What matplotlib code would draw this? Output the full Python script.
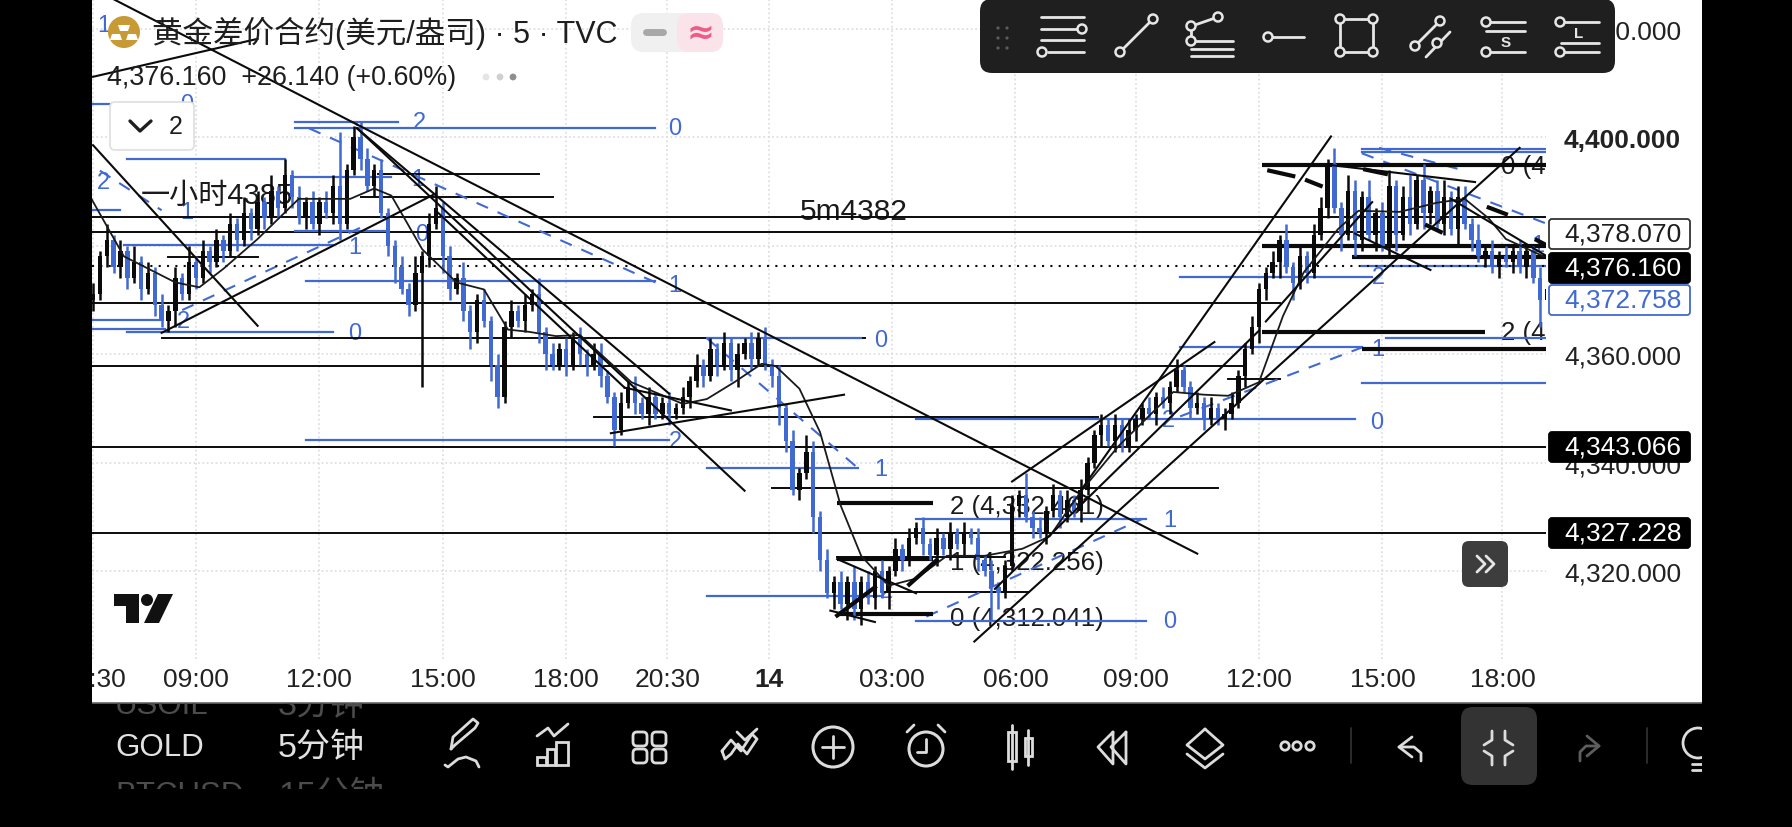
import matplotlib
matplotlib.use('Agg')
import numpy as np
import matplotlib.pyplot as plt
from matplotlib import patches

plt.rcParams['font.family'] = ['Liberation Sans', 'Noto Sans CJK SC', 'DejaVu Sans']

BLUE = '#4169d2'
BLACK = '#0a0a0a'

# closes, one candle every 2 five-minute bars
closes = [4371, 4378, 4381, 4376, 4379, 4374, 4377, 4372, 4375, 4369, 4366, 4368, 4374, 4371, 4377, 4374, 4379, 4377, 4381, 4379,
          4384, 4381, 4386, 4383, 4388, 4385, 4390, 4387, 4393, 4389, 4385, 4388, 4384, 4388, 4386, 4391, 4384, 4394, 4400, 4396,
          4391, 4394, 4386, 4380, 4376, 4372, 4369, 4375, 4378, 4384, 4387, 4378, 4372, 4374, 4368, 4364, 4370, 4366, 4358, 4352,
          4365, 4368, 4366, 4369, 4371, 4364, 4360, 4358, 4361, 4358, 4363, 4360, 4358, 4360, 4356, 4352, 4346, 4351, 4354, 4351,
          4349, 4352, 4349, 4351, 4349, 4350, 4352, 4355, 4358, 4356, 4361, 4358, 4362, 4357, 4360, 4362, 4359, 4363, 4358, 4356,
          4350, 4344, 4335, 4338, 4342, 4330, 4322, 4316, 4318, 4314, 4318, 4313, 4318, 4315, 4320, 4316, 4320, 4324, 4322, 4326,
          4328, 4325, 4323, 4326, 4324, 4327, 4325, 4327, 4326, 4322, 4320, 4317, 4316, 4321, 4332, 4334, 4330, 4328, 4327, 4331,
          4334, 4330, 4333, 4331, 4335, 4340, 4345, 4347, 4344, 4347, 4343, 4346, 4348, 4350, 4349, 4352, 4351, 4354, 4357, 4354,
          4350, 4351, 4348, 4350, 4348, 4349, 4351, 4356, 4361, 4365, 4372, 4375, 4377, 4381, 4376, 4373, 4378, 4375, 4382, 4387,
          4395, 4387, 4382, 4390, 4381, 4389, 4382, 4386, 4380, 4391, 4382, 4389, 4384, 4392, 4386, 4390, 4384, 4389, 4383, 4389,
          4384, 4381, 4378, 4379, 4376, 4378, 4377, 4379, 4376, 4379, 4374, 4370, 4372]
wick_up = [2, 1, 3, 1, 2, 1, 3, 1, 2, 1, 2, 1, 2, 1, 3, 1, 2, 1, 2, 1,
           2, 1, 3, 1, 2, 1, 3, 1, 3, 1, 2, 1, 2, 1, 2, 2, 10, 1, 2, 3,
           2, 1, 2, 1, 1, 2, 1, 3, 1, 2, 4, 1, 2, 1, 3, 1, 1, 2, 1, 2,
           1, 2, 1, 2, 1, 3, 1, 2, 1, 2, 1, 2, 1, 2, 2, 1, 1, 2, 1, 2,
           1, 2, 1, 1, 2, 1, 2, 1, 2, 1, 2, 1, 2, 1, 2, 1, 2, 1, 2, 1,
           2, 1, 2, 1, 3, 2, 1, 2, 1, 2, 1, 3, 1, 2, 1, 2, 1, 2, 1, 2,
           1, 2, 1, 2, 1, 2, 1, 2, 1, 2, 1, 2, 1, 1, 2, 1, 4, 1, 2, 1,
           2, 1, 2, 1, 2, 1, 1, 2, 1, 2, 1, 2, 1, 1, 2, 1, 2, 1, 2, 1,
           1, 2, 1, 2, 1, 1, 2, 1, 1, 2, 1, 1, 2, 1, 3, 1, 2, 1, 2, 2,
           1, 3, 1, 3, 2, 1, 3, 1, 2, 3, 1, 2, 4, 1, 3, 1, 2, 3, 1, 2,
           2, 1, 3, 1, 2, 1, 2, 1, 2, 1, 1, 2, 1]
wick_dn = [2, 1, 2, 1, 2, 2, 1, 2, 1, 2, 1, 2, 3, 1, 1, 2, 1, 2, 1, 2,
           1, 2, 1, 2, 1, 2, 1, 2, 1, 2, 1, 2, 1, 2, 1, 2, 3, 1, 1, 2,
           1, 2, 1, 2, 3, 1, 2, 1, 21, 2, 1, 3, 2, 1, 2, 3, 2, 1, 3, 2,
           1, 2, 1, 2, 1, 2, 3, 1, 1, 2, 1, 2, 2, 1, 2, 1, 3, 1, 1, 2,
           1, 2, 1, 1, 2, 1, 1, 2, 1, 2, 1, 2, 1, 2, 3, 1, 2, 1, 1, 2,
           3, 2, 1, 2, 1, 3, 2, 1, 3, 1, 3, 2, 3, 1, 2, 1, 3, 1, 2, 1,
           1, 2, 1, 2, 1, 2, 1, 2, 1, 2, 1, 6, 3, 1, 1, 2, 1, 2, 1, 2,
           1, 2, 1, 1, 2, 1, 1, 2, 1, 2, 1, 1, 2, 1, 1, 2, 1, 2, 1, 1,
           2, 1, 2, 1, 1, 2, 1, 1, 2, 1, 3, 2, 1, 3, 1, 3, 1, 2, 1, 1,
           2, 1, 3, 1, 3, 2, 1, 3, 1, 2, 3, 1, 2, 1, 3, 2, 1, 2, 1, 3,
           1, 2, 1, 2, 1, 2, 1, 2, 1, 2, 1, 5, 1]

ma_bar = [-31, -21, -6, 1, 8, 18, 30, 45, 52, 57, 66, 76, 84, 91, 97, 105, 112, 127, 142, 149, 157, 165, 169, 176, 182, 188,
          194, 202, 210, 219, 230, 241, 249, 258, 269, 285, 294, 301, 310, 317, 323, 333, 339, 351, 362, 370, 377, 382, 393]
ma_val = [4389.2, 4378, 4373.2, 4372.3, 4375.7, 4381.2, 4388.6, 4388.6, 4390.5, 4389.2, 4379.3, 4373.2, 4371.9, 4364.5, 4364.1,
          4363.3, 4363.5, 4354.8, 4350.8, 4351.7, 4354.8, 4358.2, 4357.8, 4353.6, 4345.6, 4332.1, 4322.8, 4317.3, 4318.6, 4322.8,
          4322.8, 4324.1, 4326.4, 4334.6, 4343, 4353, 4352.5, 4352.3, 4354.8, 4367, 4375, 4383, 4386.4, 4386.2, 4387.9, 4388.6,
          4385, 4381.2, 4378]

last_price = 4376.16
full_levels = [4385.2, 4342.8, 4327]
# bar from, bar to, price
black_levels = [(-10, 195, 4363), (53, 100, 4393.2), (48, 104, 4389), (-8, 18, 4377.8), (68, 118, 4377.6), (168, 298, 4335.3),
                (116, 263, 4348.3), (187, 236, 4322.6), (201, 243, 4316.1), (301, 316, 4355.4), (-31, 316, 4369.4),
                (-31, 306, 4357.8), (-31, 351, 4382.4)]
thick_levels = [(187, 215, 4332.46), (187, 215, 4322.256), (187, 215, 4312.041), (311, 394, 4394.9), (311, 394, 4379.9),
                (337, 394, 4377.8), (311, 376, 4364.1), (340, 394, 4361)]
blue_levels = [(29, 59, 4402.7), (29, 134, 4401.6), (-20, 26, 4396), (-30, -22, 4386.5), (29, 56, 4382.7), (32, 134, 4373.4),
               (-30, -9, 4364.7), (-20, 40, 4364), (149, 194, 4362.9), (32, 138, 4344.1), (149, 193, 4339), (149, 200, 4315.4),
               (210, 277, 4329.6), (210, 338, 4348.1), (210, 277, 4310.8), (287, 343, 4374.2), (287, 340, 4361.2),
               (340, 394, 4397.2), (340, 394, 4397.8), (347, 394, 4362.9), (340, 394, 4354.6), (340, 394, 4376.3),
               (356, 394, 4380), (29, 57, 4392.6), (-21, 40, 4380.1), (-30, -10, 4366.2), (-30, -20, 4406)]
blue_dashed = [(33, 4401.6, 134, 4373.2), (-28, 4393.8, -10, 4386.5), (-4, 4368.1, 48, 4383.3), (149, 4362.9, 193, 4339),
               (213, 4311.6, 276, 4329.6), (287, 4348.5, 340, 4361.2), (340, 4397, 394, 4384), (345, 4398, 370, 4393.8)]
trend_lines = [(-24, 4425.4, 47, 4402.3), (47, 4402.3, 292, 4323.2), (-30, 4398.5, 18, 4365.2), (-30, 4411.1, 18, 4418.1),
               (-10, 4363.9, 70, 4389.6), (47, 4401.6, 160, 4334.8), (47, 4401.6, 138, 4352.7), (70, 4386.4, 125, 4353.8),
               (121, 4345.4, 189, 4352.5), (125, 4353.8, 156, 4349.6), (185, 4312.7, 198, 4310.6), (187, 4322.2, 210, 4315.9),
               (227, 4307, 386, 4398), (238, 4336.5, 297, 4362.2), (233, 4316.7, 310, 4364.3), (258, 4334.8, 331, 4400.1),
               (312, 4366, 343, 4388), (330, 4394.9, 373, 4391.7), (366, 4388.6, 394, 4378), (338, 4382.2, 360, 4375.5)]
thick_ticks = [(187, 4311.8, 198, 4317), (208, 4317.5, 216, 4322), (313, 4393.8, 320, 4392.8), (324, 4392, 328, 4391),
               (341, 4394, 347, 4393.2), (377, 4387, 382, 4385.8), (391, 4381, 394, 4380), (359, 4383.7, 363, 4382.5)]

fib_bar = [65.3, 139.7, -27, 64.7, 46.3, 65.7, -3.7, 46.3, 139.7, 199.7, 139.7, 199.7, 284, 284, 344.3, 283.7, 344.7, 344.7,
           201.3, -27, -2.7, -2.7, 391.3]
fib_val = [4402.7, 4401.6, 4391.7, 4392.3, 4379.7, 4382.2, 4366, 4363.9, 4372.8, 4362.6, 4343.9, 4338.8, 4329.4, 4310.8,
           4347.5, 4347.9, 4374.2, 4361, 4316.3, 4420.6, 4406, 4386.2, 4380.1]
fib_txt = ['2', '0', '2', '1', '1', '0', '2', '0', '1', '0', '2', '1', '1', '0', '0', '2', '2', '1', '2', '1', '0', '1', '1']

time_bars = [-30, 0, 36, 72, 108, 137.5, 167, 203, 239, 274, 310, 346, 381]
time_labels = ['06:30', '09:00', '12:00', '15:00', '18:00', '20:30', '14', '03:00', '06:00', '09:00', '12:00', '15:00', '18:00']
price_ticks = [4420, 4400, 4380, 4360, 4340, 4320]
price_labels = ['4,420.000', '4,400.000', '', '4,360.000', '4,340.000', '4,320.000']

fig = plt.figure(figsize=(17.92, 8.28), dpi=100, facecolor='white')
ax = fig.add_axes([92 / 1792, 168 / 828, 1454 / 1792, 660 / 828])
ax.set_xlim(-30.3, 393.7)
ax.set_ylim(4303.78, 4425.44)
for s in ax.spines.values():
    s.set_visible(False)

ax.set_xticks(time_bars)
ax.set_xticklabels(time_labels, fontsize=19, color='#222222')
ax.get_xticklabels()[6].set_fontweight('bold')
ax.yaxis.tick_right()
ax.set_yticks(price_ticks)
ax.set_yticklabels(price_labels, fontsize=19, color='#222222', ha='left')
ax.get_yticklabels()[1].set_fontweight('bold')
ax.tick_params(axis='x', length=0, pad=6)
ax.tick_params(axis='y', length=0, pad=13)
ax.grid(True, color='#d8dbe2', ls=':', lw=1.2)
ax.set_axisbelow(True)

# drawing tools
for x0, x1, p in black_levels:
    ax.plot([x0, x1], [p, p], color=BLACK, lw=1.4, zorder=2)
for p in full_levels:
    ax.axhline(p, color=BLACK, lw=1.4, zorder=2)
for x0, x1, p in blue_levels:
    ax.plot([x0, x1], [p, p], color=BLUE, lw=1.6, zorder=2)
for x0, y0, x1, y1 in blue_dashed:
    ax.plot([x0, x1], [y0, y1], color=BLUE, lw=1.5, ls=(0, (6, 5)), zorder=2)
for x0, x1, p in thick_levels:
    ax.plot([x0, x1], [p, p], color=BLACK, lw=3, zorder=2.2, solid_capstyle='butt')
ax.axhline(last_price, color=BLACK, lw=1.5, ls=(0, (1, 3)), zorder=2)

# candles
n = len(closes)
bars = -30 + 2 * np.arange(n)
c = np.array(closes, dtype=float)
o = np.r_[c[0] - 1, c[:-1]]
hi = np.maximum(o, c) + np.array(wick_up[:n])
lo = np.minimum(o, c) - np.array(wick_dn[:n])
cols = [BLACK if c[i] >= o[i] else BLUE for i in range(n)]
ax.vlines(bars, lo, hi, colors=cols, lw=1.8, zorder=3)
ax.bar(bars, np.abs(c - o), bottom=np.minimum(o, c), width=1.3, color=cols, zorder=3)

ax.plot(ma_bar, ma_val, color='#1a1a1a', lw=1.3, zorder=3.5)
for x0, y0, x1, y1 in trend_lines:
    ax.plot([x0, x1], [y0, y1], color=BLACK, lw=1.5, zorder=3.6)
for x0, y0, x1, y1 in thick_ticks:
    ax.plot([x0, x1], [y0, y1], color=BLACK, lw=3, zorder=3.6)

for x, y, t in zip(fib_bar, fib_val, fib_txt):
    ax.text(x, y, t, color=BLUE, fontsize=17, ha='center', va='center', zorder=1.5, clip_on=True)
ax.text(220, 4332, '2 (4,332.461)', fontsize=18.6, color='#1a1a1a', va='center', zorder=1.5)
ax.text(220, 4321.6, '1 (4,322.256)', fontsize=18.6, color='#1a1a1a', va='center', zorder=1.5)
ax.text(220, 4311.4, '0 (4,312.041)', fontsize=18.6, color='#1a1a1a', va='center', zorder=1.5)
ax.text(380.5, 4394.6, '0 (4,399.000)', fontsize=18.6, color='#1a1a1a', va='center', zorder=1.5, clip_on=True)
ax.text(380.5, 4364.1, '2 (4,364.100)', fontsize=18.6, color='#1a1a1a', va='center', zorder=1.5, clip_on=True)
ax.text(-16, 4389.4, '一小时4385', fontsize=21, color='#1a1a1a', va='center', zorder=1.5)
ax.text(176, 4386.4, '5m4382', fontsize=21.5, color='#1a1a1a', va='center', zorder=1.5)

# app chrome, in screen pixels
ov = fig.add_axes([0, 0, 1, 1], facecolor='none')
ov.set_xlim(0, 1792)
ov.set_ylim(828, 0)
ov.axis('off')


def rrect(x, y, w, h, r, fc, ec='none', lw=0, z=4):
    ov.add_patch(patches.FancyBboxPatch((x + r, y + r), w - 2 * r, h - 2 * r, boxstyle='round,pad=%g,rounding_size=%g' % (r, r),
                                        fc=fc, ec=ec, lw=lw, zorder=z))


def ln(xs, ys, col='#e6e6e6', lw=2, z=5):
    ov.plot(xs, ys, color=col, lw=lw, zorder=z, solid_capstyle='round', solid_joinstyle='round')


def dot(x, y, r=4.5, fc='#1e1e1e', ec='#e6e6e6', lw=1.8, z=6):
    ov.add_patch(patches.Circle((x, y), r, fc=fc, ec=ec, lw=lw, zorder=z))


# black surround
ov.add_patch(patches.Rectangle((0, 704), 1792, 124, fc='black', zorder=1))
ov.add_patch(patches.Rectangle((0, 0), 92, 828, fc='black', zorder=8))
ov.add_patch(patches.Rectangle((1702, 0), 90, 828, fc='black', zorder=8))
ov.plot([92, 1702], [704, 704], color='#666666', lw=1.2, zorder=2)

# title block
ov.add_patch(patches.Circle((124, 33), 16, fc='#c79a35', ec='none', zorder=4))
ov.add_patch(patches.Polygon([(120, 32), (128, 32), (130, 26), (118, 26)], fc='white', zorder=5))
ov.add_patch(patches.Polygon([(110, 41), (122, 41), (120, 35), (112, 35)], fc='white', zorder=5))
ov.add_patch(patches.Polygon([(126, 41), (138, 41), (136, 35), (128, 35)], fc='white', zorder=5))
ov.text(152, 33, '黄金差价合约(美元/盎司) · 5 · TVC', fontsize=22, color='#1e1e1e', va='center', zorder=5)
ov.text(107, 78, '4,376.160  +26.140 (+0.60%)', fontsize=19.4, color='#1e1e1e', va='center', zorder=5)
for x, col in zip([486, 500, 513], ['#e4e4e4', '#cfcfcf', '#8e8e8e']):
    ov.add_patch(patches.Circle((x, 78), 3.4, fc=col, zorder=5))
rrect(631, 14, 92, 39, 13, '#f0f0f0', z=4)
rrect(677, 14, 46, 39, 13, '#fbe3ea', z=4.1)
ln([646, 663], [33, 33], col='#a8a8a8', lw=5)
ov.text(700, 33, '≈', fontsize=24, color='#ee5c86', ha='center', va='center', family=['DejaVu Sans'], fontweight='bold', zorder=5)
rrect(110, 103, 84, 48, 5, '#ffffff', ec='#dedede', lw=1.2, z=4)
ln([130, 140, 151], [122, 132, 122], col='#1e1e1e', lw=2.4)
ov.text(176, 127, '2', fontsize=18, color='#1e1e1e', ha='center', va='center', zorder=5)

# tradingview logo
ov.add_patch(patches.Polygon([(114, 595), (139, 595), (139, 624), (126, 624), (126, 607), (114, 607)], fc='#111111', zorder=4))
ov.add_patch(patches.Circle((147, 601), 6, fc='#111111', zorder=4))
ov.add_patch(patches.Polygon([(158, 595), (173, 595), (159, 624), (144, 624)], fc='#111111', zorder=4))

# price boxes
boxes = [(235, '4,378.070', '#ffffff', '#1e1e1e', '#333333'), (269, '4,376.160', '#000000', '#ffffff', '#000000'),
         (301, '4,372.758', '#ffffff', BLUE, BLUE), (448, '4,343.066', '#000000', '#ffffff', '#000000'),
         (534, '4,327.228', '#000000', '#ffffff', '#000000')]
for y, t, fc, tc, ec in boxes:
    rrect(1549, y - 15, 141, 30, 3, fc, ec=ec, lw=1.3, z=4)
    ov.text(1564, y, t, fontsize=19, color=tc, va='center', zorder=5)

# jump button
rrect(1462, 542, 46, 46, 7, '#3d3d3d', z=4)
ln([1477, 1485, 1477], [557, 565, 573], lw=2)
ln([1486, 1494, 1486], [557, 565, 573], lw=2)

# drawing toolbar
rrect(980, 0, 635, 74, 12, '#1f1f1f', z=4)
for x in [998, 1007]:
    for y in [29, 39, 49]:
        ov.add_patch(patches.Circle((x, y), 1.6, fc='#5c5c5c', zorder=5))
# fib
for y, x0, x1 in [(18, 1041, 1084), (30, 1041, 1080), (41, 1041, 1084), (53, 1048, 1084)]:
    ln([x0, x1], [y, y])
dot(1082, 30)
dot(1042, 53)
# trend
ln([1120, 1153], [53, 20])
dot(1120, 53)
dot(1153, 20)
# fib ext
ln([1192, 1218], [27, 18])
ln([1191, 1191], [27, 42])
for y in [42, 50, 57]:
    ln([1191, 1233], [y, y])
dot(1191, 27)
dot(1218, 18)
dot(1191, 42)
# ray
ln([1269, 1304], [38, 38])
dot(1268, 38)
# rectangle
ln([1340, 1373, 1373, 1340, 1340], [20, 20, 53, 53, 20])
for x, y in [(1340, 20), (1373, 20), (1340, 53), (1373, 53)]:
    dot(x, y)
# parallel
ln([1415, 1440], [47, 22])
ln([1426, 1450], [58, 33])
dot(1415, 47)
dot(1440, 22)
dot(1437, 44)
# short
ln([1487, 1525], [23, 23])
ln([1486, 1525], [32, 32])
ln([1487, 1525], [53, 53])
dot(1486, 23)
dot(1486, 53)
ov.text(1506, 43, 'S', fontsize=11, fontweight='bold', color='#e6e6e6', ha='center', va='center', zorder=5)
# long
ln([1561, 1599], [23, 23])
ln([1561, 1599], [44, 44])
ln([1561, 1599], [53, 53])
dot(1560, 23)
dot(1560, 53)
ov.text(1579, 34, 'L', fontsize=11, fontweight='bold', color='#e6e6e6', ha='center', va='center', zorder=5)

# bottom bar
clip = patches.Rectangle((92, 704), 1610, 86, transform=ov.transData)
for x, y, t, col, fs in [(115, 748, 'GOLD', '#e2e2e2', 22.5), (278, 748, '5分钟', '#e2e2e2', 24.5), (115, 706, 'USOIL', '#4c4c4c', 22.5),
                         (278, 706, '3分钟', '#4c4c4c', 24.5), (115, 796, 'BTCUSD', '#4c4c4c', 22.5), (278, 796, '15分钟', '#4c4c4c', 24.5)]:
    tx = ov.text(x, y, t, color=col, fontsize=fs, va='center', zorder=3)
    tx.set_clip_on(True)
    tx.set_clip_path(clip)
C = '#dcdcdc'
# pen
ln([451, 453, 473, 478, 475, 455, 451], [750, 738, 720, 724, 729, 746, 750], col=C)
ln([445, 448, 458, 466, 476, 479], [766, 768, 760, 758, 762, 768], col=C)
# chart
ln([537, 548, 554, 568], [737, 729, 737, 725], col=C)
ov.add_patch(patches.Rectangle((537, 758), 9, 8, fc='none', ec=C, lw=2, zorder=5))
ov.add_patch(patches.Rectangle((547, 750), 8, 16, fc='none', ec=C, lw=2, zorder=5))
ov.add_patch(patches.Rectangle((556, 743), 12, 23, fc='none', ec=C, lw=2, zorder=5))
# grid
for x in [633, 652]:
    for y in [733, 750]:
        rrect(x, y, 14, 14, 4, 'none', ec=C, lw=2, z=5)
# double chevron
ln([722, 731, 741, 752, 757, 747, 738, 731, 725, 722], [752, 741, 752, 735, 740, 755, 745, 755, 760, 752], col=C)
ln([737, 745, 757], [733, 741, 730], col=C)
# plus
ov.add_patch(patches.Circle((833, 748), 20, fc='none', ec=C, lw=2.2, zorder=5))
ln([822, 844], [748, 748], col=C)
ln([833, 833], [737, 759], col=C)
# clock
ov.add_patch(patches.Circle((926, 750), 17, fc='none', ec=C, lw=2.2, zorder=5))
ln([926, 926, 917], [740, 753, 753], col=C)
ln([907, 914], [733, 726], col=C)
ln([945, 938], [733, 726], col=C)
# candles
ov.add_patch(patches.Rectangle((1008, 733), 8, 29, fc='none', ec=C, lw=2, zorder=5))
ln([1012, 1012], [726, 770], col=C)
ov.add_patch(patches.Rectangle((1025, 739), 7, 18, fc='none', ec=C, lw=2, zorder=5))
ln([1028, 1028], [731, 766], col=C)
# rewind
ln([1113, 1098, 1113, 1113], [733, 748, 765, 733], col=C)
ln([1126, 1111, 1126, 1126], [733, 748, 765, 733], col=C)
# layers
ln([1205, 1223, 1205, 1187, 1205], [730, 746, 760, 746, 730], col=C)
ln([1187, 1205, 1223], [755, 769, 755], col=C)
# dots
for x in [1285, 1297, 1310]:
    ov.add_patch(patches.Circle((x, 747), 4.2, fc='none', ec=C, lw=2, zorder=5))
ln([1351, 1351], [729, 764], col='#333333', lw=1.2)
ln([1647, 1647], [729, 764], col='#333333', lw=1.2)
# undo / redo
ln([1412, 1399, 1412], [738, 748, 758], col=C)
ln([1399, 1414, 1421, 1421], [748, 748, 754, 762], col=C)
rrect(1461, 708, 76, 78, 12, '#333333', z=3)
ln([1492, 1492, 1484], [732, 741, 746], col=C)
ln([1505, 1505, 1513], [732, 741, 746], col=C)
ln([1484, 1492, 1492], [752, 757, 766], col=C)
ln([1513, 1505, 1505], [752, 757, 766], col=C)
ln([1587, 1599, 1587], [737, 747, 757], col='#5e5e5e')
ln([1599, 1586, 1580, 1580], [747, 747, 753, 762], col='#5e5e5e')
# bulb
ov.add_patch(patches.Circle((1698, 744), 15, fc='none', ec=C, lw=2, zorder=3))
ln([1692, 1702], [765, 765], col=C, z=3)
ln([1692, 1702], [771, 771], col=C, z=3)

fig.savefig('out.png', dpi=100, facecolor='white')
